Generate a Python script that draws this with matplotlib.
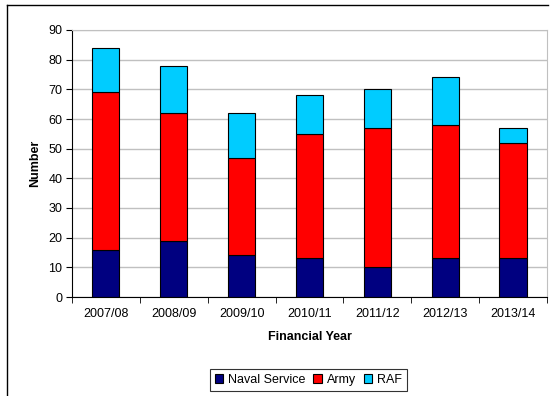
import matplotlib
matplotlib.use("Agg")
import matplotlib.pyplot as plt
from matplotlib.lines import Line2D
import numpy as np

years = ["2007/08", "2008/09", "2009/10", "2010/11", "2011/12", "2012/13", "2013/14"]
naval = [16, 19, 14, 13, 10, 13, 13]
army = [53, 43, 33, 42, 47, 45, 39]
raf = [15, 16, 15, 13, 13, 16, 5]

plt.rcParams['font.family'] = ['Liberation Sans', 'DejaVu Sans']

fig = plt.figure(figsize=(5.5, 3.96), dpi=100)
W, H = 550, 396
ax = fig.add_axes([72 / W, 1 - 297 / H, (547 - 72) / W, (297 - 30) / H])

x = np.arange(len(years))
bw = 0.4
ax.bar(x, naval, bw, color="#000080", edgecolor="black", linewidth=0.8, label="Naval Service")
ax.bar(x, army, bw, bottom=naval, color="#FF0000", edgecolor="black", linewidth=0.8, label="Army")
bot2 = np.array(naval) + np.array(army)
ax.bar(x, raf, bw, bottom=bot2, color="#00CCFF", edgecolor="black", linewidth=0.8, label="RAF")

ax.set_xlim(-0.5, len(years) - 0.5)
ax.set_ylim(0, 90)
ax.set_yticks(range(0, 91, 10))
ax.yaxis.grid(True, color="#c0c0c0", linewidth=1)
ax.set_axisbelow(True)
ax.set_xticks(x)
ax.set_xticklabels(years)
ax.set_xticks(np.arange(-0.5, len(years)), minor=True)
ax.tick_params(axis="x", which="major", length=0, labelsize=9, pad=8)
ax.tick_params(axis="x", which="minor", length=4, direction="out", color="black")
ax.tick_params(axis="y", length=4, direction="out", labelsize=9, pad=3)

for s in ["top", "right"]:
    ax.spines[s].set_color("#c0c0c0")
for s in ["left", "bottom"]:
    ax.spines[s].set_color("black")

ax.set_xlabel("Financial Year", fontsize=9, fontweight="bold", labelpad=8)
ax.set_ylabel("Number", fontsize=9, fontweight="bold", labelpad=5)

leg = fig.legend(loc="center", bbox_to_anchor=((212 + 405) / 2 / W, 1 - 380 / H),
                 ncol=3, fontsize=9, frameon=True, fancybox=False, edgecolor="black",
                 handlelength=0.7, handleheight=0.7, handletextpad=0.4, columnspacing=0.6,
                 borderpad=0.4)
leg.get_frame().set_linewidth(0.8)

# outer chart frame (top and left edges visible)
fig.add_artist(Line2D([7 / W, 548 / W], [1 - 5 / H, 1 - 5 / H], color="black", linewidth=1, transform=fig.transFigure))
fig.add_artist(Line2D([7 / W, 7 / W], [1 - 5 / H, 0], color="black", linewidth=1, transform=fig.transFigure))

fig.savefig("out.png", dpi=100)
